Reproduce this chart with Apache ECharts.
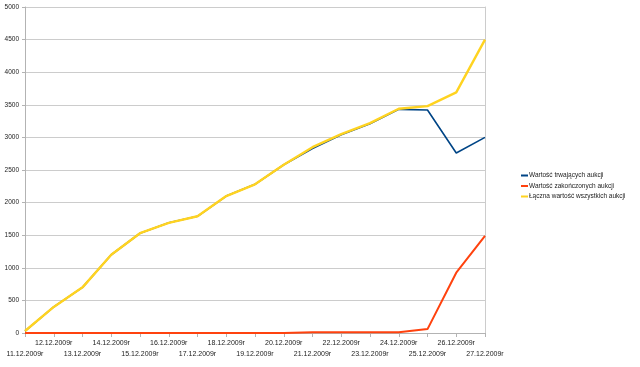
<!DOCTYPE html>
<html><head><meta charset="utf-8">
<script src="https://cdn.jsdelivr.net/npm/echarts@6/dist/echarts.min.js"></script>
<style>html,body{margin:0;padding:0;background:#fff}#c{width:640px;height:367px}</style>
</head><body><div id="c"></div>
<script>
var categories = ['11.12.2009r','12.12.2009r','13.12.2009r','14.12.2009r','15.12.2009r','16.12.2009r','17.12.2009r','18.12.2009r','19.12.2009r','20.12.2009r','21.12.2009r','22.12.2009r','23.12.2009r','24.12.2009r','25.12.2009r','26.12.2009r','27.12.2009r'];
var trwajace = [30,400,700,1200,1530,1690,1790,2100,2280,2580,2830,3040,3210,3430,3420,2760,3000];
var zakonczone = [0,0,0,0,0,0,0,0,0,0,10,10,10,10,60,925,1490];
var laczna = [30,400,700,1200,1530,1690,1790,2100,2280,2580,2850,3050,3220,3440,3480,3690,4500];
var names = ['Wartość trwających aukcji','Wartość zakończonych aukcji','Łączna wartość wszystkich aukcji'];
var colors = ['#004586','#ff420e','#ffd320'];

var chart = echarts.init(document.getElementById('c'));
var font = 'Liberation Sans';
chart.setOption({
  animation: false,
  color: colors,
  grid: {left: 25, right: 155, top: 7, bottom: 34},
  legend: {
    orient: 'vertical', left: 516, top: 167, itemWidth: 7, itemHeight: 2, itemGap: 3.5,
    icon: 'rect',
    textStyle: {fontSize: 6.5, color: '#222', fontFamily: font, padding: [0,0,0,-4]},
    data: names
  },
  xAxis: {
    type: 'category', data: categories, boundaryGap: false,
    axisLine: {lineStyle: {color: '#b3b3b3'}},
    axisTick: {show: true, length: 4, lineStyle: {color: '#b3b3b3'}},
    axisLabel: {
      interval: 0, fontSize: 7, color: '#222', fontFamily: font, margin: 5,
      formatter: function (v, i) { return i % 2 === 1 ? v : '\n' + v; },
      lineHeight: 11
    }
  },
  yAxis: [{
    type: 'value', min: 0, max: 5000, interval: 500,
    axisLine: {show: true, lineStyle: {color: '#b3b3b3'}},
    axisTick: {show: true, length: 3, lineStyle: {color: '#b3b3b3'}},
    splitLine: {lineStyle: {color: '#cccccc'}},
    axisLabel: {fontSize: 6.5, color: '#222', fontFamily: font, margin: 6,
      formatter: function (v) { return String(v); }}
  }, {
    type: 'value', min: 0, max: 5000, interval: 500, position: 'right',
    axisLine: {show: true, lineStyle: {color: '#cccccc'}},
    axisTick: {show: false}, axisLabel: {show: false}, splitLine: {show: false}
  }],
  series: [
    {name: names[0], type: 'line', data: trwajace, symbol: 'none', lineStyle: {width: 1.6}, z: 2},
    {name: names[1], type: 'line', data: zakonczone, symbol: 'none', lineStyle: {width: 2}, z: 4},
    {name: names[2], type: 'line', data: laczna, symbol: 'none', lineStyle: {width: 2.4}, z: 3}
  ]
});
</script></body></html>
